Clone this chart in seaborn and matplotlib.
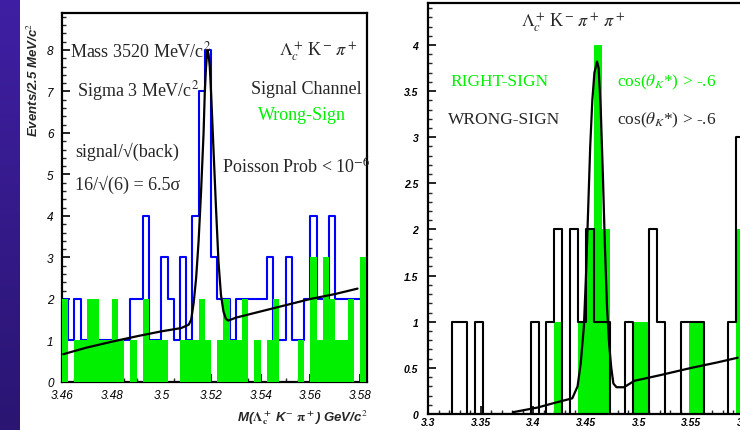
import numpy as np
import pandas as pd
import matplotlib
matplotlib.use("Agg")
import matplotlib.pyplot as plt
from matplotlib.ticker import MultipleLocator, FixedLocator
import seaborn as sns

# ---------------- data ----------------
# Left panel: M(Lambda_c+ K- pi+), 2.5 MeV bins starting at 3.46 GeV
left_bin_start = 3.46
left_bin_width = 0.0025
signal_counts = [2, 1, 2, 1, 1, 1, 1, 1, 1, 1, 1, 2, 2, 4, 1, 1, 3, 2, 1, 3, 1, 4, 7, 8, 3,
                 2, 2, 1, 2, 2, 2, 2, 2, 3, 1, 1, 3, 1, 1, 2, 4, 2, 2, 4, 2, 2, 2, 2, 2]
wrongsign_counts = [2, 0, 1, 1, 2, 2, 1, 1, 2, 1, 0, 1, 0, 2, 1, 1, 1, 0, 0, 1, 1, 1, 2, 1, 0,
                    1, 2, 1, 1, 2, 0, 1, 0, 1, 2, 0, 0, 0, 1, 0, 3, 1, 3, 2, 1, 1, 2, 0, 3]
left_fit_x = [3.4605, 3.470, 3.480, 3.490, 3.500, 3.508, 3.511, 3.512, 3.513, 3.514, 3.515,
              3.516, 3.517, 3.5175, 3.518, 3.5185, 3.519, 3.5195, 3.520, 3.521, 3.522,
              3.523, 3.524, 3.525, 3.526, 3.527, 3.530, 3.540, 3.550, 3.560, 3.570, 3.579]
left_fit_y = [0.67, 0.83, 0.97, 1.10, 1.22, 1.30, 1.38, 1.50, 1.90, 2.50, 3.40,
              4.60, 6.00, 7.00, 7.60, 8.00, 7.90, 7.60, 7.00, 5.60, 4.20,
              2.90, 2.10, 1.70, 1.52, 1.48, 1.55, 1.70, 1.85, 2.00, 2.12, 2.25]
left_xticks = [3.46, 3.48, 3.50, 3.52, 3.54, 3.56, 3.58]
left_xticklabels = ["3.46", "3.48", "3.5", "3.52", "3.54", "3.56", "3.58"]
left_yticks = [0, 1, 2, 3, 4, 5, 6, 7, 8]

# Right panel: M(Lambda_c+ K- pi+ pi+), 7.5 MeV bins starting at 3.30 GeV
right_bin_start = 3.30
right_bin_width = 0.0075
rightsign_counts = [0, 0, 0, 0, 0, 0, 0, 0, 0, 0, 0, 0, 0, 0, 0, 0, 1, 0, 0, 1,
                    2, 4, 2, 0, 0, 0, 1, 1, 0, 0, 0, 0, 0, 1, 1, 0, 0, 0, 0, 2]
wrongsign2_counts = [0, 0, 0, 1, 1, 0, 1, 0, 0, 0, 0, 0, 0, 1, 0, 1, 2, 0, 2, 1,
                     2, 1, 1, 0, 0, 1, 0, 0, 2, 1, 0, 0, 1, 1, 1, 0, 0, 0, 1, 3]
right_fit_x = [3.381, 3.404, 3.420, 3.437, 3.442, 3.445, 3.448, 3.450, 3.452, 3.454,
               3.456, 3.458, 3.4605, 3.462, 3.464, 3.466, 3.468, 3.470, 3.472, 3.474,
               3.476, 3.479, 3.486, 3.496, 3.520, 3.550, 3.575, 3.594]
right_fit_y = [0.02, 0.07, 0.12, 0.17, 0.30, 0.55, 0.95, 1.50, 2.20, 2.90,
               3.40, 3.70, 3.82, 3.75, 3.30, 2.60, 1.80, 1.15, 0.75, 0.50,
               0.33, 0.29, 0.29, 0.36, 0.42, 0.50, 0.56, 0.61]
right_xticks = [3.30, 3.35, 3.40, 3.45, 3.50, 3.55, 3.60]
right_xticklabels = ["3.3", "3.35", "3.4", "3.45", "3.5", "3.55", "3.6"]
right_yticks = [0, 0.5, 1, 1.5, 2, 2.5, 3, 3.5, 4]
right_yticklabels = ["0", "0.5", "1", "1.5", "2", "2.5", "3", "3.5", "4"]

# ---------------- style ----------------
sns.set_style("ticks")
plt.rcParams["font.family"] = ["Liberation Sans", "DejaVu Sans"]
plt.rcParams["mathtext.fontset"] = "stix"

W, H = 740, 431
fig = plt.figure(figsize=(W / 100, H / 100), dpi=100)
fig.patch.set_facecolor("white")

GREEN = "#00f000"
BLUE = "#0000ff"
SERIF = ["Liberation Serif", "DejaVu Serif"]


def ft(x, y, s, **kw):
    fig.text(x / W, 1 - y / H, s, **kw)


# purple strip on the far left
strip = fig.add_axes([0, 0, 20 / W, 1])
grad = np.linspace(0, 1, 256).reshape(-1, 1)
cmap = matplotlib.colors.LinearSegmentedColormap.from_list("strip", ["#3f1fa3", "#2a1572"])
strip.imshow(grad, aspect="auto", cmap=cmap, extent=[0, 1, 0, 1])
strip.set_axis_off()


def hist_frame(counts, start, width):
    n = len(counts)
    edges = [start + width * i for i in range(n + 1)]
    centers = [edges[i] + width / 2 for i in range(n)]
    return pd.DataFrame({"x": centers, "w": counts}), edges


def style_axes(ax):
    for side in ["left", "bottom", "top", "right"]:
        ax.spines[side].set_visible(True)
        ax.spines[side].set_linewidth(1.6)
        ax.spines[side].set_color("black")
    ax.tick_params(which="major", direction="in", length=6, width=1.2,
                   top=False, right=False, colors="black")
    ax.tick_params(which="minor", direction="in", length=3, width=1.0,
                   top=False, right=False)
    ax.set_xlabel("")
    ax.set_ylabel("")


# ---------------- left panel ----------------
axL = fig.add_axes([62 / W, 48 / H, 305 / W, 369 / H])
sig_df, edgesL = hist_frame(signal_counts, left_bin_start, left_bin_width)
ws_df, _ = hist_frame(wrongsign_counts, left_bin_start, left_bin_width)
sns.histplot(data=sig_df, x="x", weights="w", bins=edgesL, element="step", fill=False,
             color=BLUE, linewidth=1.5, ax=axL, zorder=2)
sns.histplot(data=ws_df, x="x", weights="w", bins=edgesL, element="step", fill=True,
             color=GREEN, alpha=1.0, linewidth=0, ax=axL, zorder=3)
sns.lineplot(x=left_fit_x, y=left_fit_y, color="black", linewidth=1.6, sort=False,
             estimator=None, ax=axL, zorder=4)
axL.set_xlim(3.46, 3.5828)
axL.set_ylim(0, 8.89)
axL.xaxis.set_major_locator(FixedLocator(left_xticks))
axL.set_xticklabels(left_xticklabels)
axL.xaxis.set_minor_locator(MultipleLocator(0.005))
axL.yaxis.set_major_locator(FixedLocator(left_yticks))
axL.yaxis.set_minor_locator(MultipleLocator(0.2))
style_axes(axL)
for lab in axL.get_xticklabels() + axL.get_yticklabels():
    lab.set_fontstyle("italic")
    lab.set_fontsize(8.5)
axL.tick_params(axis="x", pad=5)
axL.tick_params(axis="y", pad=6)

# left panel texts
ft(70, 51, r"Mass 3520 MeV/c$^2$", family=SERIF, fontsize=13, va="center", ha="left")
ft(77, 91, r"Sigma 3 MeV/c$^2$", family=SERIF, fontsize=13, va="center", ha="left")
ft(75, 152, "signal/\u221a(back)", family=SERIF, fontsize=13, va="center", ha="left")
ft(75, 185, "16/\u221a(6) = 6.5\u03c3", family=SERIF, fontsize=13, va="center", ha="left")
ft(318, 52, r"$\Lambda_c^+\,$K$^-\,\pi^+$", family=SERIF, fontsize=13, va="center", ha="center")
ft(306, 89, "Signal Channel", family=SERIF, fontsize=13, va="center", ha="center")
ft(302, 115, "Wrong-Sign", family=SERIF, fontsize=13, va="center", ha="center", color=GREEN)
ft(296, 168, r"Poisson Prob < 10$^{-6}$", family=SERIF, fontsize=13, va="center", ha="center")

# axis titles (ROOT style)
ft(33, 80, r"Events/2.5 MeV/c$^2$", rotation=90, fontsize=9.5, fontweight="bold",
   fontstyle="italic", va="center", ha="center")
ft(367, 418, r"M($\mathbf{\Lambda_c^+}$ K$^{-}$ $\mathbf{\pi^+}$) GeV/c$^2$", fontsize=9.5,
   fontweight="bold", fontstyle="italic", va="center", ha="right")

# ---------------- right panel ----------------
axR = fig.add_axes([428 / W, 16 / H, 316 / W, 411 / H])
rs_df, edgesR = hist_frame(rightsign_counts, right_bin_start, right_bin_width)
ws2_df, _ = hist_frame(wrongsign2_counts, right_bin_start, right_bin_width)
sns.histplot(data=rs_df, x="x", weights="w", bins=edgesR, element="step", fill=True,
             color=GREEN, alpha=1.0, linewidth=0, ax=axR, zorder=2)
sns.histplot(data=ws2_df, x="x", weights="w", bins=edgesR, element="step", fill=False,
             color="black", linewidth=1.5, ax=axR, zorder=3)
sns.lineplot(x=right_fit_x, y=right_fit_y, color="black", linewidth=1.6, sort=False,
             estimator=None, ax=axR, zorder=4)
axR.set_xlim(3.30, 3.60)
axR.set_ylim(0, 4.455)
axR.xaxis.set_major_locator(FixedLocator(right_xticks))
axR.set_xticklabels(right_xticklabels)
axR.xaxis.set_minor_locator(MultipleLocator(0.01))
axR.yaxis.set_major_locator(FixedLocator(right_yticks))
axR.set_yticklabels(right_yticklabels)
axR.yaxis.set_minor_locator(MultipleLocator(0.1))
style_axes(axR)
for lab in axR.get_xticklabels() + axR.get_yticklabels():
    lab.set_fontstyle("italic")
    lab.set_fontweight("bold")
    lab.set_fontsize(7.5)
axR.tick_params(axis="x", pad=2)
axR.tick_params(axis="y", pad=7)

ft(573, 23, r"$\Lambda_c^+\,$K$^-\,\pi^+\,\pi^+$", family=SERIF, fontsize=13, va="center", ha="center")
ft(450, 82, "RIGHT-SIGN", family=SERIF, fontsize=12.5, va="center", ha="left", color=GREEN)
ft(617, 82, r"cos($\theta_K$*) > -.6", family=SERIF, fontsize=12.5, va="center", ha="left", color=GREEN)
ft(448, 120, "WRONG-SIGN", family=SERIF, fontsize=12.5, va="center", ha="left")
ft(617, 120, r"cos($\theta_K$*) > -.6", family=SERIF, fontsize=12.5, va="center", ha="left")

fig.savefig("out.png", dpi=100)
